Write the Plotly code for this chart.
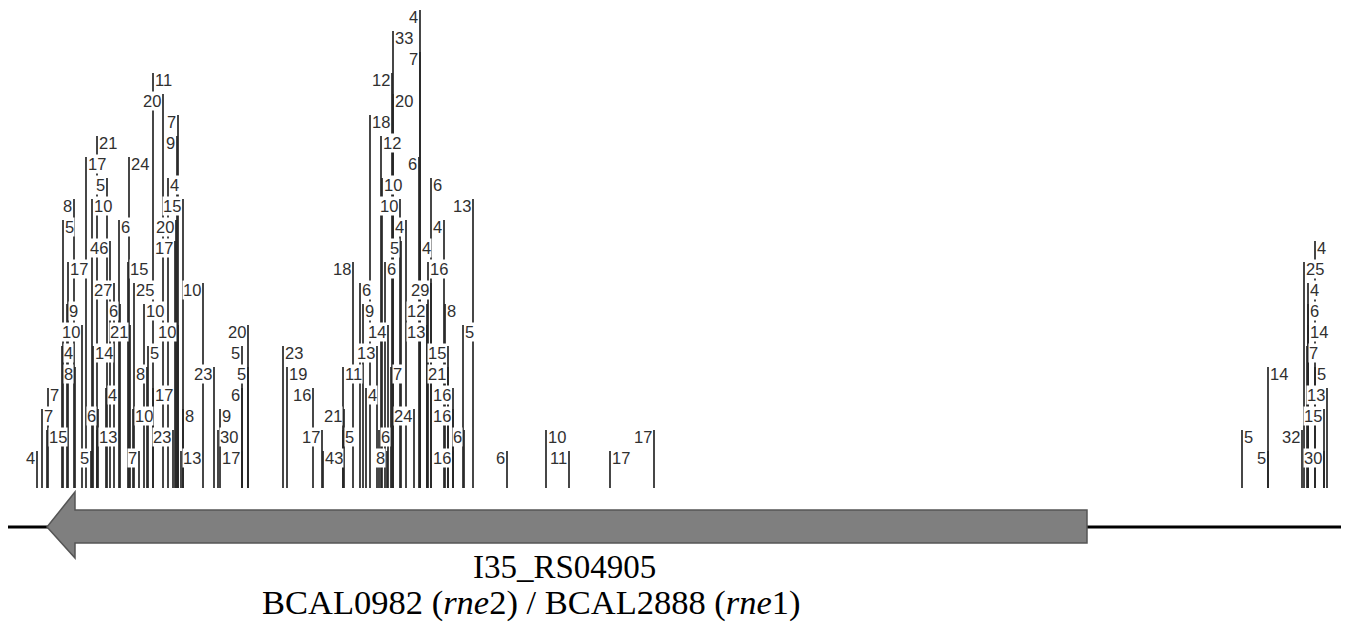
import plotly.graph_objects as go

# insertion sites (position along the locus), stack level of the label, read counts, label side
sites = [153, 163, 178, 177, 97, 86, 129, 107, 168, 74, 92, 183, 63, 119, 176, 110, 175, 68, 128,
         114, 134, 203, 67, 120, 144, 82, 130, 178, 248, 62, 93, 148, 242, 75, 147, 214, 248,
         48, 106, 153, 242, 42, 98, 133, 183, 220, 47, 97, 173, 218, 37, 91, 139, 181, 242,
         283, 287, 313, 322, 323,
         420, 393, 420, 392, 393, 370, 381, 419, 382, 431, 400, 473, 406, 444, 401, 420,
         353, 385, 428, 360, 431, 363, 427, 445, 388, 427, 463, 377, 448, 343, 391, 448,
         366, 453, 344, 414, 453, 343, 379, 464, 387, 453,
         507, 546, 569, 610, 654,
         1315, 1304, 1308, 1308, 1308, 1307, 1268, 1315, 1327, 1324, 1242, 1302, 1268, 1324]
levels = [18, 17, 16, 15, 15, 14, 14, 13, 13, 12, 12, 12, 11, 11, 11, 10, 10, 9, 9,
          8, 8, 8, 7, 7, 7, 6, 6, 6, 6, 5, 5, 5, 5, 4, 4, 4, 4,
          3, 3, 3, 3, 2, 2, 2, 2, 2, 1, 1, 1, 1, 0, 0, 0, 0, 0,
          5, 4, 3, 1, 0,
          21, 20, 19, 18, 17, 16, 15, 14, 13, 13, 12, 12, 11, 11, 10, 10,
          9, 9, 9, 8, 8, 7, 7, 7, 6, 6, 6, 5, 5, 4, 4, 4,
          3, 3, 2, 2, 2, 1, 1, 1, 0, 0,
          0, 1, 0, 0, 1,
          10, 9, 8, 7, 6, 5, 4, 4, 3, 2, 1, 1, 0, 0]
counts = [11, 20, 7, 9, 21, 17, 24, 5, 4, 8, 10, 15, 5, 6, 20, 46, 17, 17, 15,
          27, 25, 10, 9, 6, 10, 10, 21, 10, 20, 4, 14, 5, 5, 8, 8, 23, 5,
          7, 4, 17, 6, 7, 6, 10, 8, 9, 15, 13, 23, 30, 4, 5, 7, 13, 17,
          23, 19, 16, 17, 43,
          4, 33, 7, 12, 20, 18, 12, 6, 10, 6, 10, 13, 4, 4, 5, 4,
          18, 6, 16, 6, 29, 9, 12, 8, 14, 13, 5, 13, 15, 11, 7, 21,
          4, 16, 21, 24, 16, 5, 6, 6, 8, 16,
          6, 10, 11, 17, 17,
          4, 25, 4, 6, 14, 7, 14, 5, 13, 15, 5, 32, 5, 30]
sides = ["R", "L", "L", "L", "R", "R", "R", "L", "R", "L", "R", "L", "R", "R", "L", "L", "L", "R", "R",
         "L", "R", "L", "R", "L", "R", "L", "L", "L", "L", "R", "R", "R", "L", "L", "L", "L", "L",
         "R", "R", "R", "L", "R", "L", "R", "R", "R", "R", "R", "L", "R", "L", "L", "L", "R", "L",
         "R", "R", "L", "L", "R",
         "L", "R", "L", "L", "R", "R", "R", "L", "R", "R", "L", "L", "L", "L", "L", "R",
         "L", "R", "R", "R", "L", "R", "L", "R", "L", "L", "R", "L", "L", "R", "R", "L",
         "R", "L", "L", "L", "L", "R", "R", "L", "L", "L",
         "L", "R", "L", "R", "L",
         "R", "R", "R", "R", "R", "R", "R", "R", "L", "L", "R", "L", "L", "L"]

gene_name = "I35_RS04905"
gene_alias = "BCAL0982 (<i>rne</i>2) / BCAL2888 (<i>rne</i>1)"
gene_start, gene_end = 47, 1087   # arrow tip (left) and tail (right)
locus_start, locus_end = 5, 1345

LEVEL0 = 30     # label centre of the first stack level above baseline
STEP = 21       # stack spacing
HALF = 7

xs, ys = [], []
for x, k in zip(sites, levels):
    xs += [x, x, None]
    ys += [0, LEVEL0 + STEP * k + HALF, None]

fig = go.Figure()
fig.add_trace(go.Scatter(x=xs, y=ys, mode="lines",
                         line=dict(color="#262626", width=1.7),
                         hoverinfo="skip", showlegend=False))

annotations = []
for x, k, c, s in zip(sites, levels, counts, sides):
    annotations.append(dict(
        x=x, y=LEVEL0 + STEP * k, text=str(c), showarrow=False,
        xanchor="left" if s == "R" else "right", yanchor="middle",
        xshift=1 if s == "R" else -1,
        font=dict(family="Liberation Sans, Arial, sans-serif", size=16.5, color="#303030"),
        bgcolor="white", borderpad=0))

gy = -39
annotations.append(dict(x=564, y=-79, text=gene_name, showarrow=False,
                        xanchor="center", yanchor="middle",
                        font=dict(family="Liberation Serif, serif", size=33, color="black")))
annotations.append(dict(x=531, y=-114, text=gene_alias, showarrow=False,
                        xanchor="center", yanchor="middle",
                        font=dict(family="Liberation Serif, serif", size=34.5, color="black")))

head = 28
path = (f"M {gene_start},{gy} L {gene_start+head},{gy+35} L {gene_start+head},{gy+17} "
        f"L {gene_end},{gy+17} L {gene_end},{gy-16} L {gene_start+head},{gy-16} "
        f"L {gene_start+head},{gy-31} Z")

shapes = [
    dict(type="line", x0=locus_start, x1=locus_end, y0=gy, y1=gy,
         line=dict(color="black", width=3), layer="below"),
    dict(type="path", path=path, fillcolor="#7f7f7f",
         line=dict(color="#555555", width=1.5), layer="above"),
]

# the page body has an 8 px margin, so the figure is drawn 8 px in from the corner
fig.update_layout(
    width=1341, height=616,
    margin=dict(l=0, r=0, t=0, b=0),
    paper_bgcolor="white", plot_bgcolor="white",
    xaxis=dict(range=[8, 1349], visible=False, fixedrange=True),
    yaxis=dict(range=[-136, 480], visible=False, fixedrange=True),
    annotations=annotations, shapes=shapes,
)
fig.write_html("out.html")
